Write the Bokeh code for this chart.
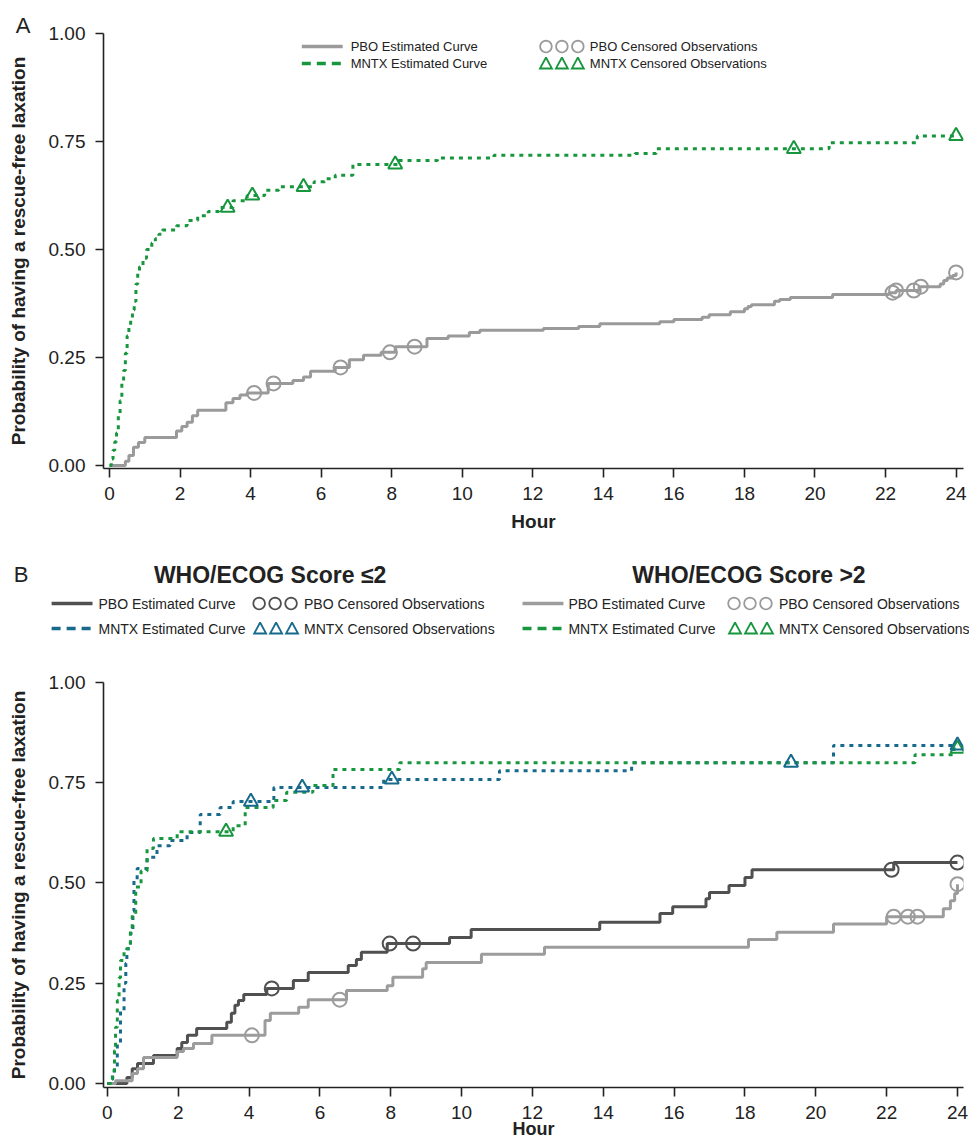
import math
from bokeh.plotting import figure
from bokeh.models import Range1d, FixedTicker, PrintfTickFormatter
from bokeh.layouts import column
from bokeh.embed import file_html
from bokeh.resources import INLINE
from bokeh.core.properties import value

FONT = "Liberation Sans"

# ---------------- DATA ----------------
hour_ticks = [0, 2, 4, 6, 8, 10, 12, 14, 16, 18, 20, 22, 24]
prob_ticks = [0.0, 0.25, 0.5, 0.75, 1.0]

# Panel A – PBO estimated curve
a_pbo_t = [0, 0.45, 0.55, 0.68, 0.82, 1.0, 1.9, 2.05, 2.2, 2.35, 2.5, 3.3, 3.5, 3.7, 3.9,
           4.5, 5.2, 5.5, 5.7, 6.4, 6.8, 7.2, 7.7, 8.1, 9.0, 9.6, 10.2, 10.5, 12.3, 13.3,
           13.9, 15.6, 16.0, 16.8, 17.0, 17.6, 18.0, 18.1, 18.2, 18.85, 19.0, 19.3, 20.5,
           22.1, 22.3, 22.95, 23.55, 23.65, 23.75, 23.9, 24.0]
a_pbo_v = [0, 0.01, 0.023, 0.042, 0.053, 0.065, 0.08, 0.09, 0.10, 0.115, 0.128, 0.145, 0.155,
           0.163, 0.168, 0.19, 0.197, 0.205, 0.218, 0.227, 0.245, 0.255, 0.262, 0.275, 0.294,
           0.30, 0.308, 0.313, 0.317, 0.322, 0.328, 0.333, 0.338, 0.343, 0.349, 0.356, 0.363,
           0.368, 0.372, 0.38, 0.384, 0.389, 0.396, 0.40, 0.405, 0.414, 0.42, 0.428, 0.434,
           0.44, 0.447]
a_pbo_cens_t = [4.1, 4.65, 6.55, 7.95, 8.65, 22.2, 22.3, 22.8, 23.0, 24.0]
a_pbo_cens_v = [0.168, 0.19, 0.227, 0.262, 0.275, 0.40, 0.405, 0.405, 0.414, 0.447]

# Panel A – MNTX estimated curve
a_mntx_t = [0, 0.05, 0.1, 0.15, 0.2, 0.25, 0.3, 0.35, 0.4, 0.45, 0.5, 0.55, 0.6, 0.65, 0.7,
            0.75, 0.8, 0.85, 0.95, 1.05, 1.2, 1.3, 1.4, 1.5, 1.9, 2.2, 2.5, 2.8, 3.1, 3.5,
            3.9, 4.4, 4.8, 5.8, 6.1, 6.4, 6.9, 8.2, 9.3, 10.9, 14.9, 15.5, 20.4, 22.9, 24.0]
a_mntx_v = [0, 0.015, 0.035, 0.055, 0.075, 0.12, 0.15, 0.19, 0.22, 0.26, 0.30, 0.325, 0.34,
            0.36, 0.38, 0.42, 0.445, 0.46, 0.48, 0.50, 0.515, 0.525, 0.535, 0.545, 0.555,
            0.567, 0.578, 0.588, 0.597, 0.613, 0.625, 0.637, 0.645, 0.657, 0.664, 0.672,
            0.697, 0.706, 0.712, 0.718, 0.722, 0.733, 0.747, 0.763, 0.763]
a_mntx_cens_t = [3.35, 4.05, 5.5, 8.1, 19.4, 24.0]
a_mntx_cens_v = [0.597, 0.625, 0.645, 0.697, 0.733, 0.763]

# Panel B – WHO/ECOG <=2
b1_pbo_t = [0, 0.55, 0.7, 0.85, 1.3, 1.97, 2.1, 2.26, 2.52, 3.37, 3.5, 3.6, 3.7, 3.85, 4.5,
            5.25, 5.67, 6.8, 7.03, 7.17, 7.9, 9.66, 10.27, 13.9, 15.6, 15.96, 16.9, 17.0,
            17.55, 18.0, 18.2, 22.2, 24.0]
b1_pbo_v = [0, 0.015, 0.037, 0.05, 0.07, 0.087, 0.102, 0.12, 0.137, 0.153, 0.175, 0.195,
            0.207, 0.222, 0.237, 0.257, 0.277, 0.294, 0.309, 0.327, 0.349, 0.364, 0.384,
            0.402, 0.424, 0.441, 0.461, 0.476, 0.494, 0.514, 0.533, 0.551, 0.551]
b1_pbo_cens_t = [4.64, 7.97, 8.63, 22.14, 24.0]
b1_pbo_cens_v = [0.237, 0.349, 0.349, 0.533, 0.551]

b1_mntx_t = [0, 0.07, 0.15, 0.2, 0.28, 0.37, 0.47, 0.52, 0.55, 0.65, 0.72, 0.75, 0.84, 1.12,
             1.4, 1.77, 2.25, 2.62, 3.18, 3.55, 4.7, 7.8, 11.07, 14.8, 20.5, 24.0]
b1_mntx_v = [0, 0.01, 0.025, 0.04, 0.10, 0.18, 0.25, 0.30, 0.336, 0.374, 0.43, 0.506, 0.536,
             0.564, 0.593, 0.606, 0.626, 0.671, 0.688, 0.703, 0.738, 0.758, 0.78, 0.80,
             0.843, 0.843]
b1_mntx_cens_t = [4.05, 5.5, 8.03, 19.3, 24.0]
b1_mntx_cens_v = [0.703, 0.738, 0.758, 0.80, 0.843]

# Panel B – WHO/ECOG >2
b2_pbo_t = [0, 0.23, 0.7, 0.85, 1.02, 1.97, 2.15, 2.43, 2.95, 4.45, 4.6, 5.4, 5.67, 6.75,
            7.9, 8.06, 8.9, 9.0, 10.56, 12.34, 18.1, 18.9, 20.5, 22.0, 23.6, 23.8, 23.92, 24.0]
b2_pbo_v = [0, 0.007, 0.025, 0.037, 0.065, 0.08, 0.087, 0.10, 0.12, 0.157, 0.175, 0.19,
            0.209, 0.232, 0.244, 0.265, 0.286, 0.302, 0.322, 0.34, 0.359, 0.377, 0.398,
            0.416, 0.436, 0.456, 0.474, 0.497]
b2_pbo_cens_t = [4.08, 6.56, 22.2, 22.6, 22.87, 24.0]
b2_pbo_cens_v = [0.12, 0.209, 0.416, 0.416, 0.416, 0.497]

b2_mntx_t = [0, 0.1, 0.14, 0.2, 0.23, 0.28, 0.33, 0.37, 0.47, 0.65, 0.7, 0.8, 0.95, 1.12,
             1.3, 1.97, 3.55, 3.89, 4.68, 5.06, 5.8, 6.37, 8.25, 22.8, 23.9, 24.0]
b2_mntx_v = [0, 0.01, 0.032, 0.082, 0.14, 0.207, 0.264, 0.307, 0.336, 0.38, 0.42, 0.49, 0.53,
             0.586, 0.611, 0.628, 0.643, 0.688, 0.706, 0.726, 0.743, 0.783, 0.80, 0.82,
             0.835, 0.835]
b2_mntx_cens_t = [3.35, 24.0]
b2_mntx_cens_v = [0.628, 0.835]

# ---------------- STYLE ----------------
GRAY_A = "#9a9a9a"
DARK = "#505050"
LIGHT = "#9c9c9c"
GREEN = "#17963d"
BLUE = "#176a8c"
AXIS = "#222222"
DOT = "4 5"
LEG_DASH = "9 6"
PAGE_W = 969


def base_fig(height, page_top, frame, xlim, ylim):
    left, right, top, bottom = frame
    p = figure(width=PAGE_W, height=height, output_backend="svg", toolbar_location=None,
               x_range=Range1d(*xlim), y_range=Range1d(*ylim),
               min_border_left=left, min_border_right=PAGE_W - right,
               min_border_top=top - page_top, min_border_bottom=page_top + height - bottom)
    # layout helper ranges: page pixel coordinates over the frame
    p.extra_x_ranges = {"px": Range1d(left, right)}
    p.extra_y_ranges = {"px": Range1d(bottom, top)}
    p.grid.visible = False
    p.outline_line_color = None
    p.background_fill_color = "white"
    p.border_fill_color = "white"
    for ax in (p.xaxis[0], p.yaxis[0]):
        ax.axis_line_color = AXIS
        ax.axis_line_width = 1.6
        ax.major_tick_line_color = AXIS
        ax.major_tick_line_width = 1.6
        ax.minor_tick_line_color = None
        ax.major_label_text_font = FONT
        ax.major_label_text_font_size = "19px"
        ax.major_label_text_color = AXIS
        ax.axis_label_text_font = FONT
        ax.axis_label_text_font_style = "bold"
        ax.axis_label_text_font_size = "19px"
        ax.axis_label_text_color = AXIS
    p.xaxis.ticker = FixedTicker(ticks=hour_ticks)
    p.yaxis.ticker = FixedTicker(ticks=prob_ticks)
    p.yaxis.formatter = PrintfTickFormatter(format="%.2f")
    p.xaxis.major_tick_in = 0
    p.xaxis.major_tick_out = 9
    p.yaxis.major_tick_in = 0
    p.yaxis.major_tick_out = 8
    p.xaxis.major_label_standoff = 9
    p.yaxis.major_label_standoff = 10
    p.yaxis.axis_label = "Probability of having a rescue-free laxation"
    p.yaxis.axis_label_standoff = 17
    return p


def txt(p, x, y, s, size, bold=False, align="left", color=AXIS):
    p.text(x=[x], y=[y], text=[s], x_range_name="px", y_range_name="px",
           text_font=value(FONT), text_font_size=f"{size}px",
           text_font_style="bold" if bold else "normal", text_align=align,
           text_baseline="middle", text_color=color, level="overlay")


def leg_line(p, x0, y, color, dash="solid"):
    p.line(x=[x0, x0 + 41], y=[y, y], x_range_name="px", y_range_name="px",
           line_color=color, line_width=3.5, line_dash=dash, level="overlay")


def leg_marks(p, x0, y, kind, color, step=16):
    # three outlined legend symbols drawn as polylines (not clipped outside the frame)
    xs, ys = [], []
    for k in range(3):
        cx = x0 + k * step
        if kind == "circle":
            n = 28
            xs.append([cx + 5.8 * math.cos(2 * math.pi * i / n) for i in range(n + 1)])
            ys.append([y + 5.8 * math.sin(2 * math.pi * i / n) for i in range(n + 1)])
        else:
            xs.append([cx, cx + 6, cx - 6, cx])
            ys.append([y - 6, y + 5, y + 5, y - 6])
    p.multi_line(xs=xs, ys=ys, x_range_name="px", y_range_name="px", line_color=color,
                 line_width=1.8, line_join="miter", level="overlay")


def curve(p, t, v, color, dash="solid"):
    p.step(x=t, y=v, mode="after", line_color=color, line_width=3, line_dash=dash)


def cens(p, t, v, marker, color, size):
    p.scatter(x=t, y=v, marker=marker, size=size, line_color=color, fill_color=None,
              line_width=2)


# ---------------- PANEL A ----------------
pa = base_fig(553, 0, (100, 963, 33, 468), (-0.17, 24.21), (-0.007, 1.0))
pa.xaxis.axis_label = "Hour"
pa.xaxis.axis_label_standoff = 8

curve(pa, a_pbo_t, a_pbo_v, GRAY_A)
curve(pa, a_mntx_t, a_mntx_v, GREEN, DOT)
cens(pa, a_pbo_cens_t, a_pbo_cens_v, "circle", GRAY_A, 14)
cens(pa, a_mntx_cens_t, a_mntx_cens_v, "triangle", GREEN, 14)

txt(pa, 12, 25, "A", 22)
leg_line(pa, 299, 46, GRAY_A)
leg_line(pa, 299, 63, GREEN, LEG_DASH)
txt(pa, 348, 46, "PBO Estimated Curve", 13)
txt(pa, 348, 63, "MNTX Estimated Curve", 13)
leg_marks(pa, 544, 46, "circle", GRAY_A)
leg_marks(pa, 544, 63, "triangle", GREEN)
txt(pa, 588, 46, "PBO Censored Observations", 13)
txt(pa, 588, 63, "MNTX Censored Observations", 13)

# ---------------- PANEL B ----------------
pb = base_fig(587, 553, (103, 965, 682, 1087), (-0.11, 24.17), (-0.01, 1.0))

curve(pb, b1_pbo_t, b1_pbo_v, DARK)
curve(pb, b2_pbo_t, b2_pbo_v, LIGHT)
curve(pb, b1_mntx_t, b1_mntx_v, BLUE, DOT)
curve(pb, b2_mntx_t, b2_mntx_v, GREEN, DOT)
cens(pb, b1_pbo_cens_t, b1_pbo_cens_v, "circle", DARK, 14)
cens(pb, b2_pbo_cens_t, b2_pbo_cens_v, "circle", LIGHT, 14)
cens(pb, b2_mntx_cens_t, b2_mntx_cens_v, "triangle", GREEN, 14)
cens(pb, b1_mntx_cens_t, b1_mntx_cens_v, "triangle", BLUE, 14)

txt(pb, 13, 574, "B", 22)
txt(pb, 270, 574, "WHO/ECOG Score \u22642", 23, bold=True, align="center")
txt(pb, 750, 574, "WHO/ECOG Score >2", 23, bold=True, align="center")

leg_line(pb, 51, 603, DARK)
txt(pb, 98, 603, "PBO Estimated Curve", 14)
leg_marks(pb, 259, 603, "circle", DARK)
txt(pb, 304, 603, "PBO Censored Observations", 14)
leg_line(pb, 51, 628, BLUE, LEG_DASH)
txt(pb, 98, 628, "MNTX Estimated Curve", 14)
leg_marks(pb, 260, 628, "triangle", BLUE)
txt(pb, 304, 628, "MNTX Censored Observations", 14)

leg_line(pb, 523, 603, LIGHT)
txt(pb, 569, 603, "PBO Estimated Curve", 14)
leg_marks(pb, 735, 603, "circle", LIGHT)
txt(pb, 780, 603, "PBO Censored Observations", 14)
leg_line(pb, 523, 628, GREEN, LEG_DASH)
txt(pb, 569, 628, "MNTX Estimated Curve", 14)
leg_marks(pb, 736, 628, "triangle", GREEN)
txt(pb, 780, 628, "MNTX Censored Observations", 14)

txt(pb, 534, 1128, "Hour", 18, bold=True, align="center")

layout = column(pa, pb, spacing=0)
open("out.html", "w").write(file_html(layout, INLINE))
